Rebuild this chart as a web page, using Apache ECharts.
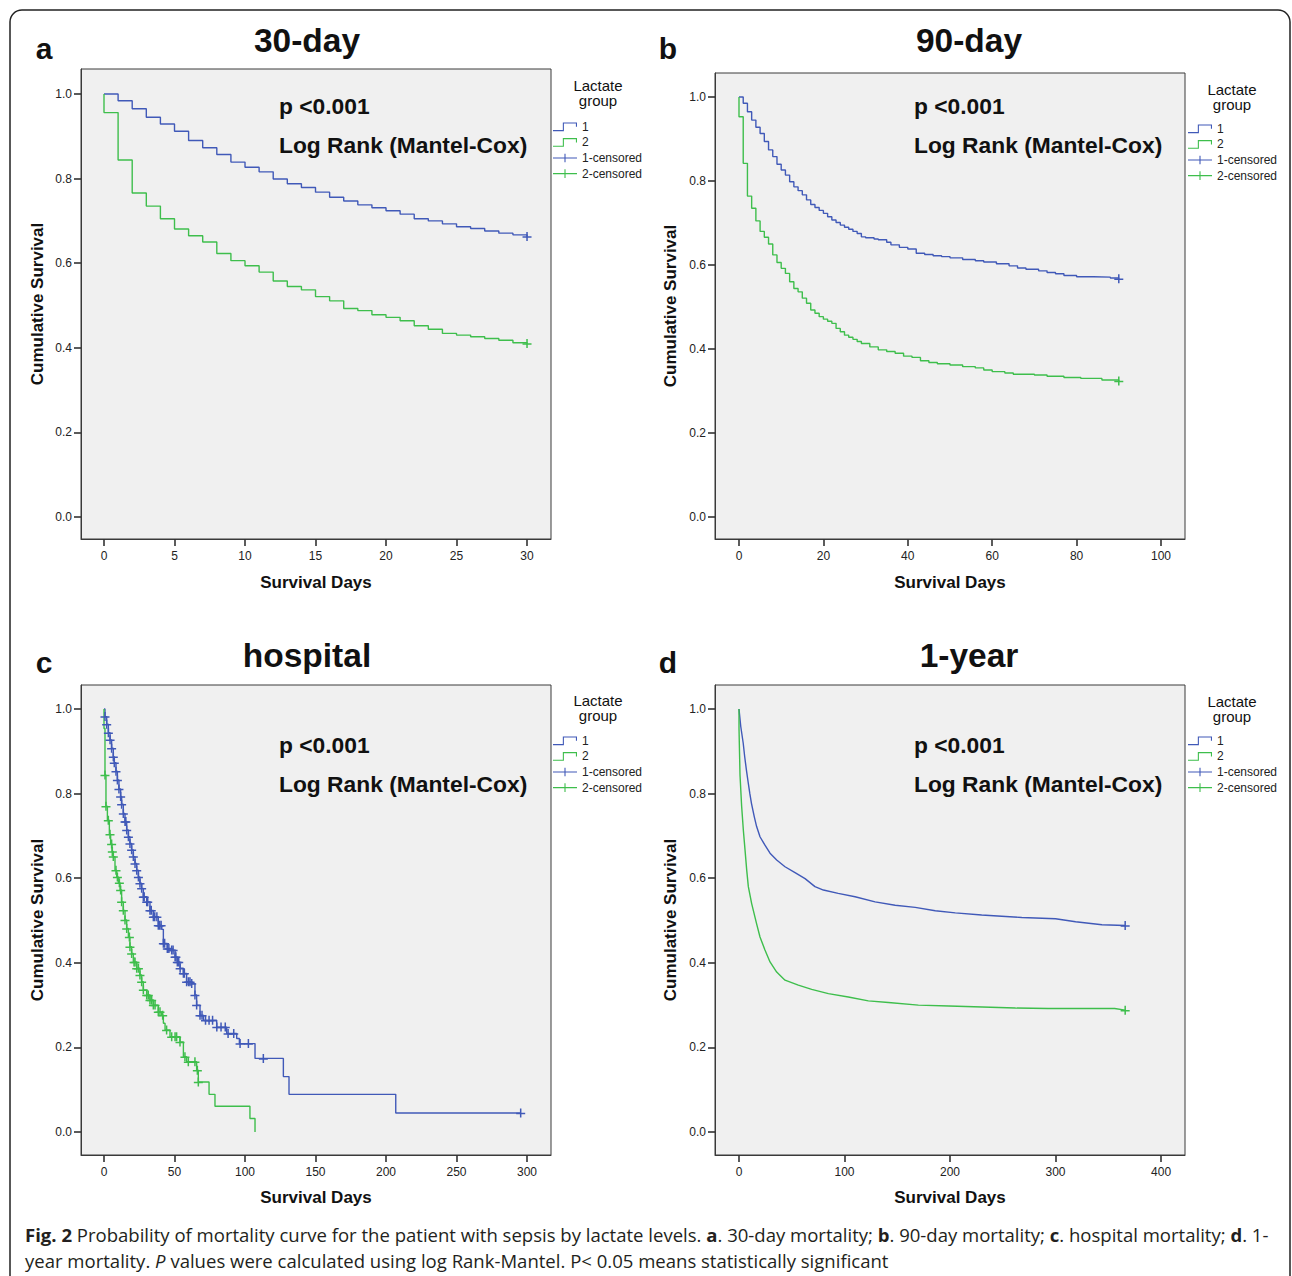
<!DOCTYPE html>
<html><head><meta charset="utf-8">
<script src="https://cdn.jsdelivr.net/npm/echarts@6/dist/echarts.min.js"></script>
<style>html,body{margin:0;padding:0;background:#fff;}#c{width:1292px;height:1276px;}</style>
</head><body><div id="c"></div>
<script>
// ---------- DATA ----------
// Panel a: 30-day
const aBlueT = [0,1,2,3,4,5,6,7,8,9,10,11,12,13,14,15,16,17,18,19,20,21,22,23,24,25,26,27,28,29,30];
const aBlueS = [1.000,0.984,0.965,0.945,0.929,0.912,0.890,0.873,0.857,0.839,0.827,0.816,0.799,0.788,0.779,0.768,0.756,0.747,0.738,0.731,0.724,0.716,0.705,0.700,0.693,0.686,0.682,0.676,0.671,0.667,0.663];
const aGreenT = [0,0,1,2,3,4,5,6,7,8,9,10,11,12,13,14,15,16,17,18,19,20,21,22,23,24,25,26,27,28,29,30];
const aGreenS = [1.000,0.956,0.844,0.766,0.735,0.705,0.681,0.665,0.650,0.623,0.606,0.594,0.579,0.558,0.545,0.537,0.521,0.511,0.493,0.488,0.478,0.472,0.464,0.452,0.444,0.434,0.430,0.426,0.422,0.418,0.412,0.410];
const aBlueCens = [30];
const aGreenCens = [30];

// Panel b: 90-day
const bBlueT = [0,1,2,3,4,5,6,7,8,9,10,11,12,13,14,15,16,17,18,19,20,21,22,23,24,25,26,27,28,29,30,32,33,35,36,38,40,42,44,46,48,50,53,56,58,61,64,66,68,71,73,75,77,80,84,88,90];
const bBlueS = [1.000,0.985,0.965,0.945,0.928,0.913,0.894,0.874,0.858,0.840,0.826,0.814,0.798,0.786,0.777,0.767,0.755,0.744,0.737,0.730,0.723,0.715,0.707,0.701,0.695,0.690,0.685,0.680,0.675,0.667,0.665,0.662,0.660,0.654,0.648,0.642,0.638,0.628,0.625,0.622,0.620,0.617,0.613,0.610,0.607,0.603,0.598,0.593,0.590,0.586,0.582,0.579,0.575,0.572,0.571,0.569,0.567];
const bGreenT = [0,0,1,2,3,4,5,6,7,8,9,10,11,12,13,14,15,16,17,18,19,20,21,22,23,24,25,26,27,28,29,31,33,35,37,39,41,43,45,47,50,53,56,58,60,63,65,70,73,77,81,86,90];
const bGreenS = [1.000,0.953,0.842,0.764,0.735,0.705,0.680,0.666,0.650,0.624,0.606,0.592,0.580,0.560,0.544,0.536,0.521,0.509,0.493,0.485,0.477,0.471,0.466,0.461,0.449,0.441,0.433,0.428,0.423,0.418,0.413,0.405,0.398,0.394,0.390,0.383,0.380,0.372,0.368,0.365,0.362,0.358,0.355,0.350,0.346,0.343,0.340,0.338,0.335,0.332,0.330,0.326,0.324];
const bBlueCens = [90];
const bGreenCens = [90];

// Panel c: hospital
const cBlueT = [0,0.7,1.9,3.1,4.3,5.4,6.6,7.3,8.5,9.5,10.6,11.8,12.5,13.7,14.9,16.1,17.3,18.4,19.6,20.8,22.0,23.2,24.4,25.5,26.7,27.9,30.3,32.6,35.0,38.5,41.0,42.1,44.9,48.0,50.4,52.0,53.9,56.3,58.6,62.2,64.5,65.7,68.1,70.5,79.9,87.0,94.1,96.0,107.1,127.2,131.2,206.9,295.5];
const cBlueS = [1.000,0.982,0.964,0.944,0.927,0.907,0.887,0.873,0.853,0.832,0.811,0.793,0.775,0.753,0.734,0.714,0.698,0.682,0.667,0.651,0.635,0.619,0.603,0.588,0.576,0.556,0.544,0.524,0.509,0.489,0.479,0.446,0.434,0.430,0.414,0.402,0.387,0.375,0.355,0.351,0.324,0.300,0.276,0.264,0.248,0.233,0.221,0.209,0.174,0.131,0.089,0.045,0.045];
const cGreenT = [0,0,0.7,1.4,2.4,3.8,4.7,5.7,6.6,7.8,9.0,10.2,11.4,12.5,13.7,14.9,16.1,17.3,18.4,19.6,20.8,23.2,25.5,26.7,27.9,30.3,32.6,35.0,38.5,40.9,42.1,43.3,46.8,53.9,56.3,58.6,65.7,66.9,74.5,78.7,103.5,107.1];
const cGreenS = [1.000,0.954,0.844,0.770,0.737,0.704,0.681,0.663,0.651,0.619,0.603,0.589,0.572,0.544,0.524,0.501,0.481,0.461,0.438,0.422,0.402,0.387,0.371,0.355,0.336,0.324,0.312,0.300,0.284,0.276,0.257,0.241,0.225,0.213,0.178,0.166,0.146,0.118,0.089,0.061,0.032,0.000];
const cBlueCens = [0.7,1.9,3.1,4.3,5.4,6.6,7.3,8.5,9.5,10.6,11.8,12.5,13.7,14.9,15.5,16.1,17.3,18.4,19.6,20.8,22,23.2,24.4,25.5,26.7,27.9,28.5,30.3,31,32.6,33.5,35,36,37.5,38.5,39.5,40.5,42.1,43,44.9,46,48,49,50.4,51,52,53,54,56.3,57,58.6,60,61,62.2,64.5,65.7,68.1,69.5,72,74.5,77,80,83,86,88,92,96.5,102.4,113,295.5];
const cGreenCens = [0.7,1.4,3.07,4.26,5.4,5.9,6.6,8.5,9.5,10.9,11.8,12.5,13.7,14.9,16.1,18,18.4,19.6,21.3,22,23.2,24.4,25.5,26.7,27.9,30.3,31.4,32.6,33.8,35,36.2,38.5,39.7,41.6,44.4,48,50.4,51.5,53.9,57.4,59.8,64.5,66.2,66.9];

// Panel d: 1-year
const dBlueT = [0,1.7,4,5.4,7,8.6,10.2,11.8,14.5,16.7,19.9,24.6,29.4,35.7,43.6,53.1,62.6,72,80,94,110,129,148,167,186,205,230,249,268,300,319,344,366];
const dBlueS = [1.000,0.958,0.919,0.887,0.856,0.828,0.801,0.777,0.745,0.722,0.698,0.678,0.659,0.643,0.627,0.613,0.599,0.580,0.572,0.564,0.556,0.544,0.536,0.531,0.523,0.518,0.513,0.510,0.507,0.504,0.497,0.490,0.488];
const dGreenT = [0,0,0.95,2.5,4.1,5.7,7.3,8.85,12,16.7,19.9,24.6,29.4,35.7,43.6,56.2,68.9,84.7,103.6,122.6,141.6,170,199,262,293,356,366];
const dGreenS = [1.000,0.954,0.844,0.770,0.714,0.667,0.619,0.580,0.540,0.492,0.461,0.430,0.402,0.378,0.359,0.347,0.337,0.327,0.319,0.310,0.306,0.300,0.298,0.293,0.292,0.292,0.288];
const dBlueCens = [366];
const dGreenCens = [366];

// Tick labels
const yTicks = [0, 0.2, 0.4, 0.6, 0.8, 1.0];
const aXTicks = [0,5,10,15,20,25,30];
const bXTicks = [0,20,40,60,80,100];
const cXTicks = [0,50,100,150,200,250,300];
const dXTicks = [0,100,200,300,400];

const panelTitles = ['30-day','90-day','hospital','1-year'];
const panelLetters = ['a','b','c','d'];
const groupNames = ['1','2','1-censored','2-censored'];

// ---------- STYLE / LAYOUT ----------
const FONT = "'Liberation Sans', Arial, sans-serif";
const BLUE = '#4059B8', GREEN = '#3EBE4C';
const PLUS = 'path://M0,4.25H9V5.75H0Z M3.75,0H5.25V9H3.75Z';
const STEPICON = 'path://M0,7H9V0H22V4H21V1H10V8H0Z';
const PLUSICON = 'path://M0,3.5H22V4.5H0Z M10.5,0H11.5V8H10.5Z';

const grids = [
  {left:81, top:69, width:470, height:470, xmin:-1.631, xmax:31.70, ymin:-0.052, ymax:1.0591, ticks:aXTicks, yGap:35.5, xGap:35},
  {left:715, top:73, width:470, height:466, xmin:-5.687, xmax:105.69, ymin:-0.0524, ymax:1.0571, ticks:bXTicks, yGap:36.5, xGap:35},
  {left:81, top:685, width:470, height:470, xmin:-16.31, xmax:317.0, ymin:-0.0544, ymax:1.0567, ticks:cXTicks, yGap:35.5, xGap:33.5},
  {left:715, top:685, width:470, height:470, xmin:-22.75, xmax:422.7, ymin:-0.0544, ymax:1.0567, ticks:dXTicks, yGap:36.5, xGap:33.5}
];

function lookup(T, S, t) {
  let v = S[0];
  for (let i = 0; i < T.length; i++) { if (T[i] <= t) v = S[i]; else break; }
  return v;
}
function kmLine(name, T, S, color, gi, step) {
  return {type:'line', name, xAxisIndex:gi, yAxisIndex:gi, data:T.map((t,i)=>[t,S[i]]),
    step: step ? 'end' : false, showSymbol:false, symbol:'none', smooth:false,
    lineStyle:{color, width:1.4}, itemStyle:{color}, animation:false, z:3, silent:true};
}
function censors(name, C, T, S, color, gi) {
  return {type:'scatter', name, xAxisIndex:gi, yAxisIndex:gi, data:C.map(t=>[t, lookup(T,S,t)]),
    symbol:PLUS, symbolSize:9, itemStyle:{color, opacity:1}, animation:false, z:4, silent:true};
}

const panels = [
  [aBlueT,aBlueS,aGreenT,aGreenS,aBlueCens,aGreenCens,true],
  [bBlueT,bBlueS,bGreenT,bGreenS,bBlueCens,bGreenCens,true],
  [cBlueT,cBlueS,cGreenT,cGreenS,cBlueCens,cGreenCens,true],
  [dBlueT,dBlueS,dGreenT,dGreenS,dBlueCens,dGreenCens,false]
];

const series = [];
panels.forEach((p, gi) => {
  series.push(kmLine(groupNames[0], p[0], p[1], BLUE, gi, p[6]));
  series.push(kmLine(groupNames[1], p[2], p[3], GREEN, gi, p[6]));
  series.push(censors(groupNames[2], p[4], p[0], p[1], BLUE, gi));
  series.push(censors(groupNames[3], p[5], p[2], p[3], GREEN, gi));
});

const axisColor = '#333';
const option = {
  backgroundColor:'#fff',
  animation:false,
  grid: grids.map(g => ({left:g.left, top:g.top, width:g.width, height:g.height, show:true,
    backgroundColor:'#F0F0F0', borderColor:'#3a3a3a', borderWidth:1, containLabel:false, outerBoundsMode:'none'})),
  xAxis: grids.map((g, i) => ({type:'value', gridIndex:i, min:g.xmin, max:g.xmax,
    axisLine:{show:true, onZero:false, lineStyle:{color:'#3a3a3a', width:1}},
    axisTick:{show:true, inside:false, length:7, customValues:g.ticks, lineStyle:{color:axisColor, width:1.6}},
    axisLabel:{customValues:g.ticks, margin:11, fontSize:12, color:'#222', fontFamily:FONT},
    splitLine:{show:false},
    name:'Survival Days', nameLocation:'middle', nameGap:g.xGap,
    nameTextStyle:{fontWeight:'bold', fontSize:17, color:'#111', fontFamily:FONT}})),
  yAxis: grids.map((g, i) => ({type:'value', gridIndex:i, min:g.ymin, max:g.ymax,
    axisLine:{show:true, onZero:false, lineStyle:{color:'#3a3a3a', width:1}},
    axisTick:{show:true, inside:false, length:7, customValues:yTicks, lineStyle:{color:axisColor, width:1.6}},
    axisLabel:{customValues:yTicks, margin:9, fontSize:12, color:'#222', fontFamily:FONT, formatter:v=>v.toFixed(1)},
    splitLine:{show:false},
    name:'Cumulative Survival', nameLocation:'middle', nameGap:g.yGap,
    nameTextStyle:{fontWeight:'bold', fontSize:17, color:'#111', fontFamily:FONT}})),
  legend: [[553,119],[1188,121],[553,733],[1188,733]].map(p => ({
    left:p[0], top:p[1], orient:'vertical', itemWidth:24, itemHeight:9, itemGap:0, padding:0,
    selectedMode:false,
    textStyle:{fontSize:12, color:'#222', fontFamily:FONT, lineHeight:15.6},
    data:[{name:groupNames[0], icon:STEPICON},{name:groupNames[1], icon:STEPICON},
          {name:groupNames[2], icon:PLUSICON},{name:groupNames[3], icon:PLUSICON}]
  })),
  series,
  graphic: []
};

const G = option.graphic;
G.push({type:'rect', z:-10, shape:{x:10, y:10, width:1280, height:1330, r:12}, style:{fill:'none', stroke:'#222', lineWidth:1.5}, silent:true});
function txt(x, y, text, size, weight, align, family) {
  G.push({type:'text', x, y, silent:true, style:{text, fontSize:size, fontWeight:weight||'normal', fontFamily:family||FONT,
    fill:'#111', align:align||'left', verticalAlign:'middle'}});
}
// panel titles and letters
[[44,48,307,40],[668,48,969,40],[44,662,307,655],[668,662,969,655]].forEach((p,i)=>{
  txt(p[0], p[1], panelLetters[i], 30, 'bold', 'center');
  txt(p[2], p[3], panelTitles[i], 33.5, 'bold', 'center');
});
// annotations
[[279,106,145],[914,106,145],[279,745,784],[914,745,784]].forEach(p=>{
  txt(p[0], p[1], 'p <0.001', 22.8, 'bold', 'left');
  txt(p[0], p[2], 'Log Rank (Mantel-Cox)', 22.8, 'bold', 'left');
});
// legend titles
[[598,85],[1232,89],[598,700],[1232,701]].forEach(p=>{
  txt(p[0], p[1], 'Lactate', 15, 'normal', 'center');
  txt(p[0], p[1]+15, 'group', 15, 'normal', 'center');
});
// caption
const CF = "'Open Sans', sans-serif";
const CS = 18.55;
const rich = {b:{fontWeight:'bold', fontSize:CS, fontFamily:CF, fill:'#231f20'},
              n:{fontSize:CS, fontFamily:CF, fill:'#231f20'},
              i:{fontStyle:'italic', fontSize:CS, fontFamily:CF, fill:'#231f20'}};
G.push({type:'text', x:25, y:1234, silent:true, style:{
  text:'{b|Fig. 2}{n| Probability of mortality curve for the patient with sepsis by lactate levels. }{b|a}{n|. 30-day mortality; }{b|b}{n|. 90-day mortality; }{b|c}{n|. hospital mortality; }{b|d}{n|. 1-}',
  rich, fontSize:CS, fontFamily:CF, fill:'#231f20', align:'left', verticalAlign:'middle'}});
G.push({type:'text', x:25, y:1260, silent:true, style:{
  text:'{n|year mortality. }{i|P}{n| values were calculated using log Rank-Mantel. P< 0.05 means statistically significant}',
  rich, fontSize:CS, fontFamily:CF, fill:'#231f20', align:'left', verticalAlign:'middle'}});

const chart = echarts.init(document.getElementById('c'), null, {renderer:'svg'});
chart.setOption(option);
</script>
</body></html>
